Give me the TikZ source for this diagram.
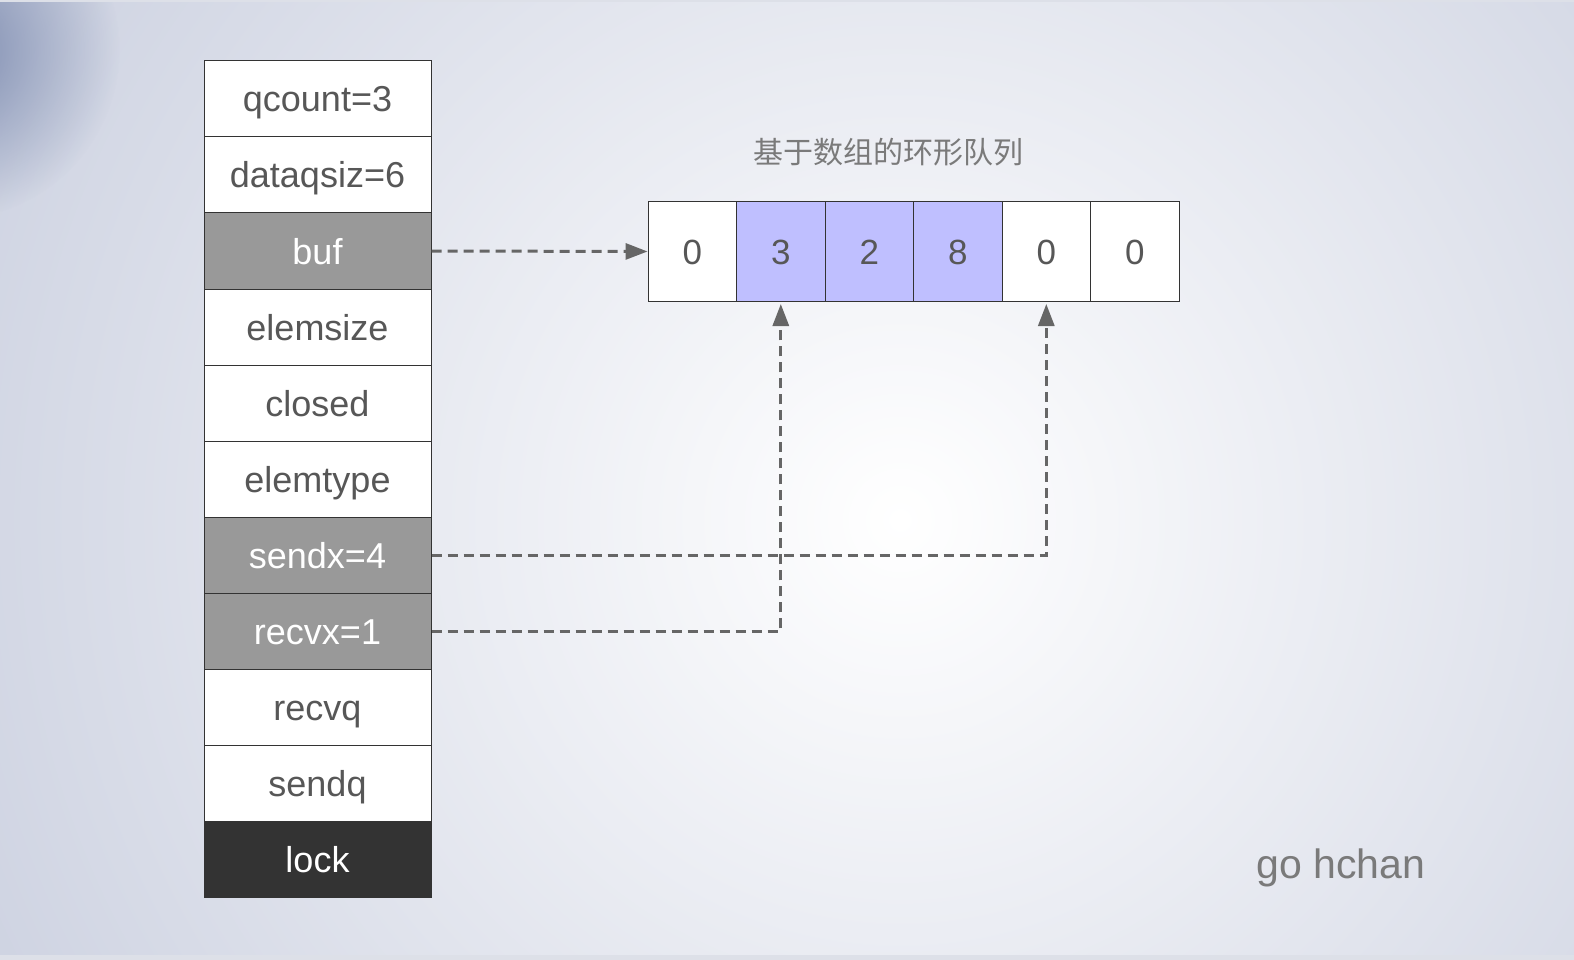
\documentclass[tikz,border=0pt]{standalone}
\usepackage{fontspec}
\setmainfont{Liberation Sans}
\newfontfamily\cjk{Noto Sans CJK SC}
\usetikzlibrary{arrows.meta,fadings}

\definecolor{bgout}{HTML}{B9C0D5}
\definecolor{bgedge}{HTML}{DDE0E8}
\definecolor{bgcorner}{HTML}{6879A3}
\definecolor{linec}{HTML}{333333}
\definecolor{labelc}{HTML}{575757}
\definecolor{hotc}{HTML}{999999}
\definecolor{lockc}{HTML}{333333}
\definecolor{fullc}{HTML}{BFBFFF}
\definecolor{ptrc}{HTML}{666666}
\definecolor{notec}{HTML}{7A7A7A}

\tikzfading[name=cornerfade, inner color=transparent!20, outer color=transparent!100]

\begin{document}
\begin{tikzpicture}[x=1pt, y=-1pt,
	field/.style={draw=linec, line width=1pt, fill=white, text=labelc, minimum width=227pt, minimum height=76pt, inner sep=0pt, text height=26pt, text depth=0pt, font=\fontsize{36}{40}\selectfont},
	hot/.style={field, fill=hotc, text=white},
	lockbox/.style={field, fill=lockc, text=white},
	cell/.style={draw=linec, line width=1pt, fill=white, text=labelc, minimum width=88.5pt, minimum height=100pt, inner sep=0pt, text height=25pt, text depth=0pt, font=\fontsize{35}{40}\selectfont},
	full/.style={cell, fill=fullc},
	ptr/.style={draw=ptrc, line width=3pt, dash pattern=on 10pt off 6pt, -{Triangle[length=22pt,width=16pt]}}]
	
		\useasboundingbox (0,0) rectangle (1574,960);
		\fill[bgedge] (0,0) rectangle (1574,960);
		\begin{scope}
			\clip (0,3) rectangle (1574,954);
			\shade[inner color=white, outer color=bgout] (900,520) circle (1450pt);
			\fill[bgcorner, path fading=cornerfade] (-50,50) circle (170pt);
		\end{scope}
		
		\node[field] (qcount) at (317.5,99) {qcount=3};
		\node[field] (dataqsiz) at (317.5,175) {dataqsiz=6};
		\node[hot] (buf) at (317.5,251) {buf};
		\node[field] (elemsize) at (317.5,327) {elemsize};
		\node[field] (closed) at (317.5,403) {closed};
		\node[field] (elemtype) at (317.5,479) {elemtype};
		\node[hot] (sendx) at (317.5,555) {sendx=4};
		\node[hot] (recvx) at (317.5,631) {recvx=1};
		\node[field] (recvq) at (317.5,707) {recvq};
		\node[field] (sendq) at (317.5,783) {sendq};
		\node[lockbox] (lock) at (317.5,859) {lock};
		
		\node[text=notec, font=\cjk\fontsize{30}{33}\selectfont] (title) at (888,152) {基于数组的环形队列};
		\node[cell] (c0) at (692.3,251.5) {0};
		\node[full] (c1) at (780.8,251.5) {3};
		\node[full] (c2) at (869.3,251.5) {2};
		\node[full] (c3) at (957.8,251.5) {8};
		\node[cell] (c4) at (1046.3,251.5) {0};
		\node[cell] (c5) at (1134.8,251.5) {0};
		
		\draw[ptr] (buf.east) -- (c0.west);
		\draw[ptr, shorten >=2pt] (sendx.east) -| (c4.south);
		\draw[ptr, shorten >=2pt] (recvx.east) -| (c1.south);
		
		\node[text=notec, anchor=base, font=\fontsize{41}{44}\selectfont] (gohchan) at (1341,878) {go hchan};
	\end{tikzpicture}
\end{document}
